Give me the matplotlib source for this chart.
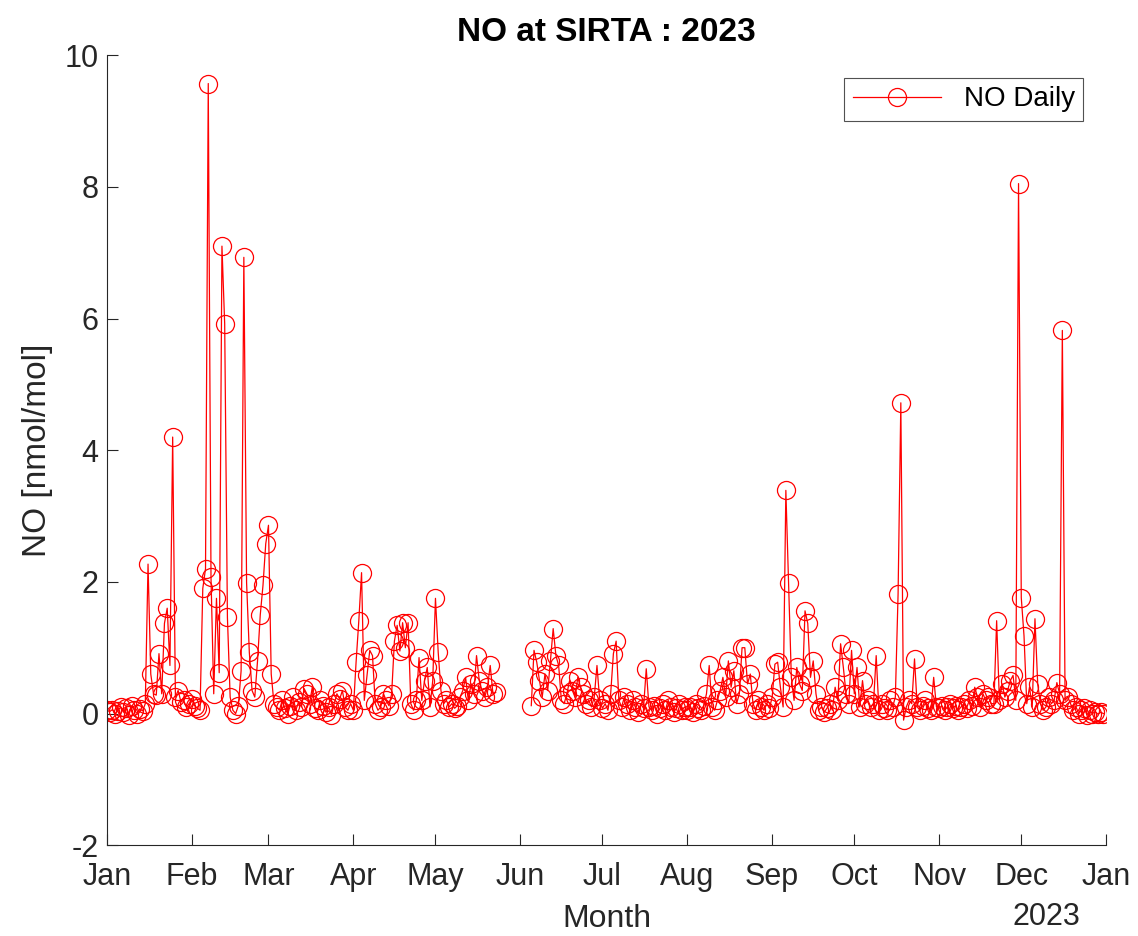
import numpy as np
import matplotlib
matplotlib.use("Agg")
import matplotlib.pyplot as plt
import matplotlib.dates as mdates

plt.rcParams['font.family'] = ['Liberation Sans', 'DejaVu Sans']
plt.rcParams['axes.unicode_minus'] = False

nan = np.nan

# daily NO values (nmol/mol)
jan = [0.05, 0.03, 0.06, 0.00, 0.04, 0.10, 0.02, 0.08, -0.02, 0.12, 0.05, 0.00, 0.07, 0.04, 0.15,
       2.27, 0.60, 0.30, 0.28, 0.91, 0.30, 1.37, 1.60, 0.73, 4.20, 0.25, 0.35, 0.18, 0.20, 0.10, 0.15]
feb = [0.22, 0.12, 0.08, 0.05, 1.90, 2.20, 9.57, 2.07, 0.30, 1.75, 0.62, 7.10, 5.92, 1.46, 0.25,
       0.05, 0.00, 0.12, 0.65, 6.93, 1.99, 0.93, 0.35, 0.25, 0.80, 1.50, 1.95, 2.58]
mar = [2.86, 0.60, 0.15, 0.10, 0.05, 0.20, 0.08, 0.00, 0.12, 0.25, 0.05, 0.18, 0.10, 0.38, 0.30,
       0.15, 0.40, 0.08, 0.05, 0.20, 0.12, 0.02, 0.10, -0.02, 0.15, 0.30, 0.22, 0.35, 0.10, 0.05, 0.15]
apr = [0.05, 0.78, 1.41, 2.14, 0.20, 0.58, 0.96, 0.88, 0.15, 0.05, 0.10, 0.30, 0.20, 0.12, 0.30,
       1.10, 1.34, 0.95, 1.38, 1.00, 1.38, 0.15, 0.05, 0.20, 0.85, 0.20, 0.50, 0.70, 0.10, 0.50]
may = [1.75, 0.93, 0.35, 0.15, 0.20, 0.10, 0.15, 0.08, 0.12, 0.25, 0.35, 0.55, 0.20, 0.45, 0.30,
       0.88, 0.50, 0.35, 0.25, 0.40, 0.73, 0.30, 0.32, nan, nan, nan, nan, nan, nan, nan, nan]
jun = [nan, nan, nan, nan, 0.12, 0.96, 0.78, 0.50, 0.25, 0.60, 0.35, 0.80, 1.29, 0.88, 0.73,
       0.20, 0.15, 0.30, 0.50, 0.35, 0.25, 0.55, 0.40, 0.30, 0.15, 0.20, 0.10, 0.25, 0.73, 0.20]
jul = [0.08, 0.15, 0.05, 0.30, 0.91, 1.10, 0.20, 0.10, 0.25, 0.15, 0.05, 0.20, 0.10, 0.02, 0.15,
       0.08, 0.68, 0.10, 0.05, 0.12, 0.00, 0.08, 0.15, 0.05, 0.20, 0.10, 0.02, 0.08, 0.15, 0.05, 0.10]
aug = [0.05, 0.10, 0.02, 0.15, 0.08, 0.05, 0.12, 0.30, 0.73, 0.10, 0.05, 0.20, 0.35, 0.55, 0.25,
       0.80, 0.40, 0.65, 0.15, 0.30, 1.00, 1.00, 0.45, 0.60, 0.15, 0.05, 0.20, 0.10, 0.05, 0.15, 0.08]
sep = [0.25, 0.75, 0.78, 0.40, 0.10, 3.39, 1.99, 0.55, 0.20, 0.70, 0.45, 0.35, 1.56, 1.37, 0.55,
       0.80, 0.30, 0.05, 0.10, 0.02, 0.08, 0.15, 0.05, 0.40, 0.20, 1.06, 0.70, 0.30, 0.15, 0.96]
oct_ = [0.30, 0.70, 0.10, 0.50, 0.15, 0.20, 0.10, 0.15, 0.88, 0.05, 0.15, 0.08, 0.05, 0.20, 0.10,
        0.25, 1.82, 4.72, -0.10, 0.10, 0.20, 0.15, 0.83, 0.10, 0.05, 0.12, 0.20, 0.08, 0.05, 0.55, 0.10]
nov = [0.08, 0.12, 0.05, 0.10, 0.15, 0.08, 0.12, 0.05, 0.10, 0.15, 0.08, 0.20, 0.12, 0.40, 0.25,
       0.10, 0.30, 0.20, 0.25, 0.15, 0.15, 1.41, 0.20, 0.45, 0.25, 0.35, 0.50, 0.58, 0.20, 8.05]
dec = [1.76, 1.18, 0.15, 0.40, 0.10, 1.44, 0.45, 0.15, 0.05, 0.10, 0.25, 0.15, 0.20, 0.47, 0.30,
       5.82, 0.20, 0.25, 0.15, 0.05, 0.10, 0.00, 0.05, 0.08, -0.02, 0.05, 0.00, 0.03, -0.01, 0.02, 0.00]

no_daily = np.array(jan + feb + mar + apr + may + jun + jul + aug + sep + oct_ + nov + dec)
days = np.arange('2023-01-01', '2024-01-01', dtype='datetime64[D]')

fig = plt.figure(figsize=(11.38, 9.36), dpi=100)
ax = fig.add_axes([0.094, 0.097, 0.878, 0.844])

ax.plot(days, no_daily, '-o', color='red', lw=0.9, ms=13, mfc='none', mew=0.9,
        label='NO Daily')

ax.set_xlim(np.datetime64('2023-01-01'), np.datetime64('2024-01-01'))
ax.set_ylim(-2, 10)
ax.set_yticks(np.arange(-2, 11, 2))
ax.xaxis.set_major_locator(mdates.MonthLocator())
ax.xaxis.set_major_formatter(mdates.DateFormatter('%b'))

grey = '#262626'
for s in ['top', 'right']:
    ax.spines[s].set_visible(False)
for s in ['left', 'bottom']:
    ax.spines[s].set_color(grey)
    ax.spines[s].set_linewidth(0.8)
ax.tick_params(direction='in', length=8, width=0.8, colors=grey, labelsize=22)
ax.tick_params(axis='x', pad=12)
ax.tick_params(axis='y', pad=6)

ax.set_xlabel('Month', fontsize=23, color=grey, labelpad=9)
ax.set_ylabel('NO [nmol/mol]', fontsize=24, color=grey, labelpad=8)
ax.set_title('NO at SIRTA : 2023', fontsize=24, fontweight='bold', pad=10)
ax.text(0.94, -0.072, '2023', transform=ax.transAxes, ha='center', va='top',
        fontsize=22, color=grey)

leg = ax.legend(loc='upper right', fontsize=20, fancybox=False, edgecolor=grey,
                handlelength=3.2, borderpad=0.3, borderaxespad=0,
                bbox_to_anchor=(0.977, 0.971))
leg.get_frame().set_linewidth(0.8)

fig.savefig('out.png', dpi=100, facecolor='white')
